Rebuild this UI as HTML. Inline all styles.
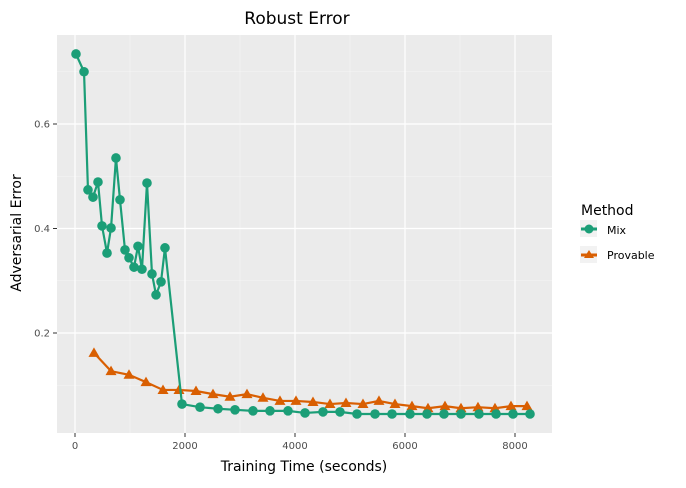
<!DOCTYPE html>
<html><head><meta charset="utf-8"><style>
body{margin:0;background:#fff;font-family:"DejaVu Sans","Liberation Sans",sans-serif;}
svg text{font-family:"DejaVu Sans","Liberation Sans",sans-serif;}
</style></head><body>
<svg id="chart" width="686" height="484">
<rect x="57" y="35" width="495" height="398" fill="#ebebeb"/>
<g id="grid"></g><g id="axes"></g><g id="series"></g>
<text x="297" y="24" font-size="17" text-anchor="middle">Robust Error</text>
<text x="304" y="471" font-size="14" text-anchor="middle">Training Time (seconds)</text>
<text transform="translate(21,233) rotate(-90)" font-size="14" text-anchor="middle">Adversarial Error</text>
<g>
<text x="581" y="215" font-size="14">Method</text>
<g>
<rect x="580" y="220" width="17" height="17" fill="#f2f2f2"/>
<line x1="581" y1="229" x2="597" y2="229" stroke="#1b9e77" stroke-width="3"/>
<circle cx="589" cy="229" r="4.5" fill="#1b9e77"/>
<text x="607" y="234" font-size="11">Mix</text></g>
<g>
<rect x="580" y="246" width="17" height="17" fill="#f2f2f2"/>
<line x1="581" y1="255" x2="597" y2="255" stroke="#d95f02" stroke-width="3"/>
<polygon points="589,250 594,258 584,258" fill="#d95f02"/>
<text x="607" y="259" font-size="11">Provable</text></g>
</g>
</svg>
<script>
const mixX=[18,164,236,327,418,491,582,655,745,818,909,982,1073,1145,1218,1309,1400,1473,1564,1636,1945,2273,2600,2909,3236,3545,3873,4182,4509,4818,5127,5455,5764,6091,6400,6709,7018,7345,7655,7964,8273];
const mixY=[0.734,0.700,0.474,0.460,0.489,0.405,0.353,0.401,0.535,0.455,0.359,0.344,0.326,0.366,0.322,0.487,0.313,0.273,0.298,0.363,0.064,0.058,0.055,0.053,0.051,0.051,0.051,0.047,0.049,0.049,0.045,0.045,0.045,0.045,0.045,0.045,0.045,0.045,0.045,0.045,0.045];
const provX=[345,655,982,1291,1600,1891,2200,2509,2818,3127,3418,3727,4018,4327,4636,4927,5236,5527,5818,6127,6418,6727,7018,7327,7636,7927,8218];
const provY=[0.162,0.127,0.120,0.106,0.091,0.091,0.089,0.083,0.078,0.083,0.076,0.070,0.070,0.068,0.064,0.066,0.064,0.070,0.064,0.060,0.056,0.060,0.056,0.058,0.056,0.060,0.060];
const xTicks=[0,2000,4000,6000,8000];
const yTicks=[0.2,0.4,0.6];
const NS="http://www.w3.org/2000/svg";
const sx=v=>75+v*0.055;
const sy=v=>437.5-v*522.5;
function mk(tag,attrs,parent){const e=document.createElementNS(NS,tag);for(const k in attrs)e.setAttribute(k,attrs[k]);document.getElementById(parent).appendChild(e);return e;}
// minor grid
for(let i=0;i<xTicks.length-1;i++){const v=(xTicks[i]+xTicks[i+1])/2;const l=mk('line',{x1:sx(v),x2:sx(v),y1:35,y2:433,stroke:'#f5f5f5','stroke-width':0.6},'grid');

}
for(const v of [0.1,0.3,0.5,0.7]){const l=mk('line',{x1:57,x2:552,y1:sy(v),y2:sy(v),stroke:'#f5f5f5','stroke-width':0.6},'grid');

}
for(const v of xTicks){const l=mk('line',{x1:sx(v),x2:sx(v),y1:35,y2:433,stroke:'#fff','stroke-width':1.2},'grid');


const tk=mk('line',{x1:sx(v),x2:sx(v),y1:433,y2:437,stroke:'#333'},'axes');


const t=mk('text',{x:sx(v),y:449,'font-size':10,'text-anchor':'middle',fill:'#4d4d4d'},'axes');t.textContent=v;

}
for(const v of yTicks){const l=mk('line',{x1:57,x2:552,y1:sy(v),y2:sy(v),stroke:'#fff','stroke-width':1.2},'grid');


const tk=mk('line',{x1:53,x2:57,y1:sy(v),y2:sy(v),stroke:'#333'},'axes');


const t=mk('text',{x:50,y:sy(v)+3.5,'font-size':10,'text-anchor':'end',fill:'#4d4d4d'},'axes');t.textContent=v.toFixed(1);

}
function series(xs,ys,color,tri,name){
const pl=mk('polyline',{points:xs.map((x,i)=>sx(x)+','+sy(ys[i])).join(' '),fill:'none',stroke:color,'stroke-width':2.2},'series');


xs.forEach((x,i)=>{const cx=sx(x),cy=sy(ys[i]);let m;
if(tri)m=mk('polygon',{points:`${cx},${cy-5.5} ${cx+5.5},${cy+4} ${cx-5.5},${cy+4}`,fill:color},'series');
else m=mk('circle',{cx:cx,cy:cy,r:4.8,fill:color},'series');

});}
series(provX,provY,'#d95f02',true,'provable');
series(mixX,mixY,'#1b9e77',false,'mix');
</script>
</body></html>
